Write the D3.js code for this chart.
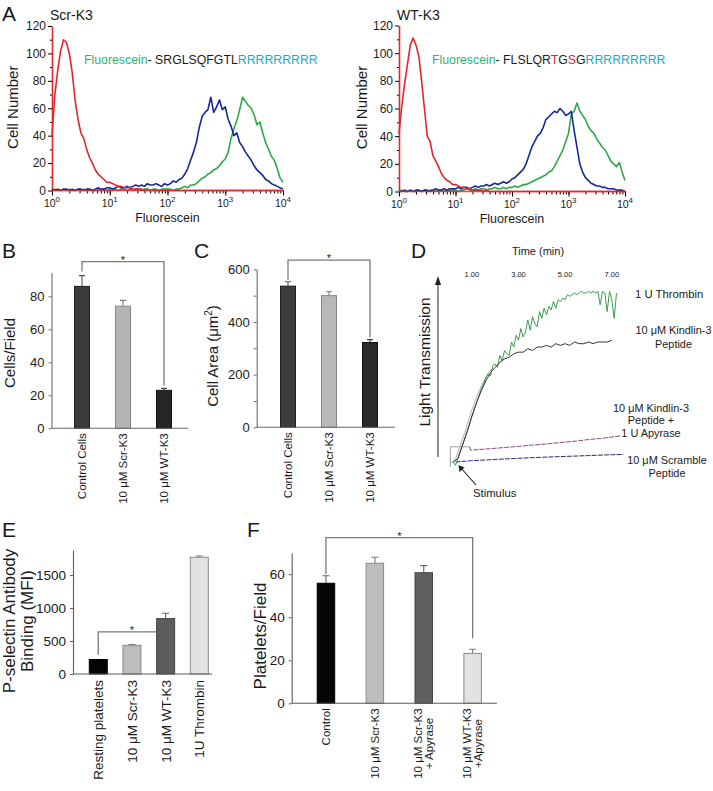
<!DOCTYPE html>
<html><head><meta charset="utf-8">
<script src="https://cdn.jsdelivr.net/npm/d3@7"></script>
<style>
body{margin:0;background:#fff;}
svg text{font-family:"Liberation Sans",Arial,Helvetica,sans-serif;fill:#1a1a1a;}
</style></head>
<body><svg id="fig" width="713" height="791"></svg>
<script>
// ================= DATA =================
// Panel A: flow cytometry histograms, channel spacing 0.05 decade from 10^0 to 10^4
const histStep = 0.05;
const cellTicks = [0, 20, 40, 60, 80, 100, 120];
const cellMinorTicks = [10, 30, 50, 70, 90, 110];
const decadeTicks = [1, 10, 100, 1000, 10000];
const scrRed = [40,70,88,102,110,108,100,86,66,52, 42,38,30,24,20,15,12,10,8,6, 6,5,4,3,3,2,2,2,1,1, 1,1,0,1,0,0,0,0,0,0, 0,0,0,0,0,0,0,0,0,0, 0,0,0,0,0,0,0,0,0,0, 0,0,0,0,0,0,0,0,0,0, 0,0,0,0,0,0,0,0,0,0, 0];
const scrBlue = [1,0,1,0,1,1,0,1,0,1, 1,0,1,1,0,1,2,1,1,2, 2,1,2,3,2,2,3,2,3,4, 3,4,3,5,4,4,5,4,3,5, 4,5,7,6,8,9,12,16,22,28, 35,46,54,57,59,68,57,61,66,59, 61,52,47,40,42,35,32,28,25,22, 18,15,13,11,8,7,5,4,3,2, 1];
const scrGreen = [0,1,0,0,1,0,1,0,0,1, 0,1,0,1,0,0,1,0,1,0, 1,0,1,0,1,1,0,1,0,1, 1,0,1,1,0,1,1,0,1,1, 1,1,0,1,1,2,3,2,4,4, 5,7,9,10,12,13,15,16,18,21, 23,28,38,45,51,59,68,65,62,60, 55,48,50,42,35,30,25,22,16,9, 6];
const wtRed = [42,62,78,92,106,111,106,98,80,60, 40,36,26,22,18,13,10,8,7,5, 5,4,3,3,2,2,1,1,1,1, 0,1,0,0,0,0,0,0,0,0, 0,0,0,0,0,0,0,0,0,0, 0,0,0,0,0,0,0,0,0,0, 0,0,0,0,0,0,0,0,0,0, 0,0,0,0,0,0,0,0,0,0, 0];
const wtBlue = [0,0,1,0,1,0,1,1,0,1, 1,0,1,2,1,1,2,1,2,2, 2,3,2,3,3,2,3,4,3,4, 4,5,4,5,6,5,6,7,6,7, 9,10,12,14,16,20,26,32,36,40, 42,46,52,54,56,58,57,60,58,55, 56,58,44,32,20,14,10,8,6,5, 4,4,3,3,2,2,2,1,1,1, 0];
const wtGreen = [0,1,0,0,1,0,0,1,0,1, 0,1,1,0,1,1,0,1,1,1, 1,0,1,1,2,1,1,2,1,2, 2,1,2,2,3,2,2,3,2,3, 3,4,3,4,5,5,6,7,8,9, 10,11,12,14,15,18,22,26,30,36, 42,56,58,64,58,55,52,47,44,42, 38,35,32,30,26,22,20,18,21,14, 8];

// Panel B
const bCats = ["Control Cells", "10 μM Scr-K3", "10 μM WT-K3"];
const bValues = [86, 74, 23];
const bErrors = [6.5, 3.5, 1.2];
const bTicks = [0, 20, 40, 60, 80];
// Panel C
const cCats = ["Control Cells", "10 μM Scr-K3", "10 μM WT-K3"];
const cValues = [536, 500, 322];
const cErrors = [17, 15, 11];
const cTicks = [0, 200, 400, 600];
const cMinorTicks = [100, 300, 500];
// Panel D: aggregation traces (time in min, light transmission in %)
const timeTicks = [1, 3, 5, 7];
const thrombinStart = 0.2, thrombinStep = 0.1;
const thrombinValues = [0,-2,2,6,10,14,18,22,27,31,35,39,43,
  46,50,52,51,57,58,56,63,60,66, 64,63,71,68,75,72,79,74,77,84, 78,86,82,80,89,85,91,87,92,90, 95,91,96,95,97,96,99,98,99,100,
  99,100,101,100,100,101,100,101,100,101, 93,101,100,89,101,96,85,100];
const kindlinStart = 0.2, kindlinStep = 0.2;
const kindlinValues = [0,2,10,18,27,35,42,48,53,56, 59,61,62,64,65,65,67,66,68,68, 69,68,70,69,70,69,71,70,70,71, 70,71,71,71,72];
const apyraseTimes = [0.9, 0.95, 1.5, 2.0, 2.5, 3.0, 3.5, 4.0, 4.5, 5.0, 5.5, 6.0, 6.5, 7.0, 7.4];
const apyraseValues = [9, 7, 7.6, 8.1, 8.7, 9.2, 9.9, 10.4, 11.1, 11.8, 12.4, 13.3, 13.9, 14.8, 15.5];
const scrambleTimes = [0.3, 1, 2, 3, 4, 5, 6, 7, 7.5];
const scrambleValues = [0, 0.8, 1.5, 2.2, 2.8, 3.3, 3.8, 4.3, 4.5];
const artifactTimes = [0.08, 0.08, 0.9];
const artifactValues = [-3, 9, 9];
// Panel E
const eCats = ["Resting platelets", "10 μM Scr-K3", "10 μM WT-K3", "1U Thrombin"];
const eValues = [220, 435, 840, 1770];
const eErrors = [0, 10, 80, 20];
const eTicks = [0, 500, 1000, 1500];
// Panel F
const fCats = [["Control"], ["10 μM Scr-K3"], ["10 μM Scr-K3", "+ Apyrase"], ["10 μM WT-K3", "+Apyrase"]];
const fValues = [55.8, 65.1, 60.7, 23.2];
const fErrors = [3.5, 2.8, 3.3, 1.9];
const fTicks = [0, 20, 40, 60];

// ================= DRAWING =================
const svg = d3.select("#fig");
const RED = "#e3262d", BLUE = "#16289c", GREEN = "#2ea64a";

function txt(x, y, s, size, opts = {}) {
  const t = svg.append("text").attr("x", x).attr("y", y).attr("font-size", size).text(s);
  if (opts.anchor) t.attr("text-anchor", opts.anchor);
  if (opts.fill) t.attr("fill", opts.fill);
  return t;
}
function vtext(x, y, s, size) {
  return svg.append("text").attr("transform", `translate(${x},${y}) rotate(-90)`)
    .attr("text-anchor", "middle").attr("dy", "0.35em").attr("font-size", size).text(s);
}

// ---------- Panel A ----------
function drawHist(o) {
  const g = svg.append("g");
  const x = d3.scaleLog().domain([1, 1e4]).range([o.x0, o.x1]);
  const y = d3.scaleLinear().domain([0, 120]).range([o.y0, o.y1]);
  g.append("g").attr("transform", `translate(${o.x0},0)`)
    .call(d3.axisLeft(y).tickValues(cellMinorTicks).tickSize(2).tickFormat(""))
    .call(s => s.select(".domain").remove());
  const ya = g.append("g").attr("transform", `translate(${o.x0},0)`)
    .call(d3.axisLeft(y).tickValues(cellTicks).tickSize(4).tickSizeOuter(0).tickPadding(2));
  ya.selectAll("text").attr("font-size", 12).attr("font-family", null);
  ya.select(".domain").attr("stroke", RED).attr("stroke-width", 1.6);
  const xm = g.append("g").attr("transform", `translate(0,${o.y0})`)
    .call(d3.axisBottom(x).tickValues(x.ticks()).tickSize(3).tickSizeOuter(0).tickFormat(""));
  xm.select(".domain").remove();
  const xa = g.append("g").attr("transform", `translate(0,${o.y0})`)
    .call(d3.axisBottom(x).tickValues(decadeTicks).tickSize(5).tickSizeOuter(0).tickFormat(""));
  xa.select(".domain").remove();
  decadeTicks.forEach(v => {
    const t = g.append("text").attr("x", x(v)).attr("y", o.y0 + 16).attr("text-anchor", "middle").attr("font-size", 10.5);
    t.append("tspan").text("10");
    t.append("tspan").attr("dy", -5).attr("font-size", 8).text(Math.round(Math.log10(v)));
  });
  g.append("text").attr("x", (o.x0 + o.x1) / 2).attr("y", o.y0 + 31).attr("text-anchor", "middle").attr("font-size", 12.5).text("Fluorescein");
  const line = d3.line().x((d, i) => x(Math.pow(10, i * histStep))).y(d => y(d));
  [[o.green, GREEN], [o.blue, BLUE], [o.red, RED]].forEach(([data, col]) => {
    g.append("path").datum(data).attr("d", line).attr("fill", "none").attr("stroke", col).attr("stroke-width", 1.6).attr("stroke-linejoin", "round");
  });
  g.append("line").attr("x1", x(1)).attr("x2", x(1e4)).attr("y1", y(0)).attr("y2", y(0)).attr("stroke", RED).attr("stroke-width", 1.4).attr("opacity", 0.85);
  vtext(o.labX, (o.y0 + o.y1) / 2 - 1, "Cell Number", 15);
  txt(o.titleX, 20, o.title, 14);
  const t = g.append("text").attr("x", o.seqX).attr("y", 63.5).attr("font-size", 12.3);
  o.seq.forEach(([s, c]) => t.append("tspan").attr("fill", c).text(s));
}
const CY = "#22aacb", SG = "#2bb573", BK = "#1a1a1a";
drawHist({x0: 52, x1: 283, y0: 190.5, y1: 26, green: scrGreen, blue: scrBlue, red: scrRed, labX: 13, title: "Scr-K3", titleX: 50, seqX: 84,
  seq: [["Fluorescein", SG], ["- SRGLSQFGTL", BK], ["RRRRRRRRR", CY]]});
drawHist({x0: 399, x1: 625, y0: 191.5, y1: 25.5, green: wtGreen, blue: wtBlue, red: wtRed, labX: 362, title: "WT-K3", titleX: 397, seqX: 432,
  seq: [["Fluorescein", SG], ["- FLSLQR", BK], ["T", RED], ["G", BK], ["S", RED], ["G", BK], ["RRRRRRRRR", CY]]});
txt(2, 21, "A", 21);

// ---------- Bar panels ----------
function drawBars(o) {
  const g = svg.append("g");
  const keys = o.cats.map(c => Array.isArray(c) ? c.join(" ") : c);
  const x = d3.scalePoint().domain(keys).range(o.xr).padding(0.5);
  const y = d3.scaleLinear().domain([0, o.ymax]).range([o.y0, o.yTop]);
  if (o.bracket) {
    const b = o.bracket;
    const xa = x(keys[b.from]), xb = x(keys[b.to]);
    g.append("path").attr("d", `M${xa},${y(b.leftEnd)}V${y(b.level)}H${xb}V${y(b.rightEnd)}`)
      .attr("fill", "none").attr("stroke", "#7a7a7a").attr("stroke-width", 1.3);
    g.append("text").attr("x", (xa + xb) / 2).attr("y", y(b.level) + 2).attr("text-anchor", "middle").attr("font-size", 11).text("*");
  }
  keys.forEach((k, i) => {
    if (!o.errors[i]) return;
    const cx = x(k), top = y(o.values[i] + o.errors[i]);
    g.append("path").attr("d", `M${cx},${y(o.values[i])}V${top}M${cx - o.cap / 2},${top}H${cx + o.cap / 2}`)
      .attr("stroke", o.errColor[i]).attr("stroke-width", 1.1).attr("fill", "none");
  });
  g.selectAll("rect.bar").data(o.values).enter().append("rect")
    .attr("x", (d, i) => x(keys[i]) - o.bw / 2).attr("width", o.bw)
    .attr("y", d => y(d)).attr("height", d => o.y0 - y(d))
    .attr("fill", (d, i) => o.fills[i]).attr("stroke", (d, i) => o.strokes[i]).attr("stroke-width", 1);
  if (o.minor) {
    g.append("g").attr("transform", `translate(${o.axisX},0)`)
      .call(d3.axisLeft(y).tickValues(o.minor).tickSize(3).tickFormat(""))
      .call(s => s.select(".domain").remove()).selectAll("line").attr("stroke", o.axisColor);
  }
  const ya = g.append("g").attr("transform", `translate(${o.axisX},0)`)
    .call(d3.axisLeft(y).tickValues(o.ticks).tickFormat(d3.format("d")).tickSize(3).tickSizeOuter(0).tickPadding(4));
  ya.select(".domain").attr("stroke", o.axisColor).attr("stroke-width", 1.1);
  ya.selectAll(".tick line").attr("stroke", o.axisColor);
  ya.selectAll("text").attr("font-size", o.tickFs).attr("font-family", null).attr("fill", "#1a1a1a");
  g.append("line").attr("x1", o.axisX).attr("x2", o.xEnd).attr("y1", o.y0).attr("y2", o.y0).attr("stroke", o.axisColor).attr("stroke-width", 1.1);
  o.cats.forEach((c, i) => {
    const lines = Array.isArray(c) ? c : [c];
    const grp = g.append("g").attr("transform", `translate(${x(keys[i])},${o.y0 + o.labGap}) rotate(-90)`);
    const ts = lines.map((ln, j) => grp.append("text").attr("font-size", o.labFs).attr("text-anchor", "middle")
      .attr("y", (j - (lines.length - 1) / 2) * o.labFs * 0.95 + o.labFs * 0.36).text(ln));
    const W = d3.max(ts, t => t.node().getComputedTextLength());
    ts.forEach(t => t.attr("x", -W / 2));
  });
  return g;
}

// B
drawBars({cats: bCats, values: bValues, errors: bErrors, ticks: bTicks, ymax: 94.3, y0: 428.3, yTop: 272.7,
  xr: [61.5, 184.5], axisX: 51.5, xEnd: 188, bw: 15, cap: 6, tickFs: 13, labFs: 11.5, labGap: 5,
  fills: ["#3b3b3b", "#b5b5b5", "#262626"], strokes: ["#1e1e1e", "#858585", "#111"], errColor: ["#555", "#777", "#444"],
  axisColor: "#6a6a6a", bracket: {from: 0, to: 2, level: 101, leftEnd: 95, rightEnd: 26}});
vtext(10, 353, "Cells/Field", 15);
txt(2, 258, "B", 21);

// C
drawBars({cats: cCats, values: cValues, errors: cErrors, ticks: cTicks, minor: cMinorTicks, ymax: 600, y0: 427.3, yTop: 269.3,
  xr: [267.5, 390.5], axisX: 256.7, xEnd: 395, bw: 15, cap: 6, tickFs: 13, labFs: 11.5, labGap: 5,
  fills: ["#3d3d3d", "#b8b8b8", "#2a2a2a"], strokes: ["#1e1e1e", "#858585", "#111"], errColor: ["#555", "#777", "#444"],
  axisColor: "#6a6a6a", bracket: {from: 0, to: 2, level: 635, leftEnd: 560, rightEnd: 342}});
{
  const t = svg.append("text").attr("transform", `translate(213,356) rotate(-90)`).attr("text-anchor", "middle").attr("dy", "0.35em").attr("font-size", 15);
  t.append("tspan").text("Cell Area (μm");
  t.append("tspan").attr("dy", -6).attr("font-size", 10).text("2");
  t.append("tspan").attr("dy", 6).text(")");
}
txt(194, 258, "C", 21);

// E
drawBars({cats: eCats, values: eValues, errors: eErrors, ticks: eTicks, ymax: 1880, y0: 674, yTop: 550,
  xr: [81.45, 216.15], axisX: 73, xEnd: 212, bw: 18, cap: 7, tickFs: 13.5, labFs: 13.5, labGap: 6,
  fills: ["#050505", "#bdbdbd", "#5c5c5c", "#e2e2e2"], strokes: ["#000", "#8a8a8a", "#444", "#8a8a8a"], errColor: ["#555", "#777", "#666", "#777"],
  axisColor: "#5a5a5a", bracket: {from: 0, to: 2, level: 640, leftEnd: 290, rightEnd: 640}});
vtext(9, 621, "P-selectin Antibody", 17);
vtext(27, 621, "Binding (MFI)", 17);
txt(2, 537, "E", 21);

// F
drawBars({cats: fCats, values: fValues, errors: fErrors, ticks: fTicks, ymax: 70, y0: 703.3, yTop: 552.7,
  xr: [301.5, 497.1], axisX: 291.7, xEnd: 497, bw: 17.5, cap: 7, tickFs: 13.5, labFs: 11.5, labGap: 5,
  fills: ["#050505", "#bdbdbd", "#5f5f5f", "#e2e2e2"], strokes: ["#000", "#8a8a8a", "#444", "#8a8a8a"], errColor: ["#666", "#777", "#666", "#777"],
  axisColor: "#5a5a5a", bracket: {from: 0, to: 3, level: 77, leftEnd: 60, rightEnd: 30.2}});
vtext(260, 636, "Platelets/Field", 17);
txt(247, 537, "F", 21);

// ---------- Panel D ----------
{
  const g = svg.append("g");
  const xT = d3.scaleLinear().domain([0, 7.5]).range([448.5, 623.5]);
  const yT = d3.scaleLinear().domain([0, 100]).range([462, 293]);
  g.append("text").attr("x", 538).attr("y", 255).attr("text-anchor", "middle").attr("font-size", 11).text("Time (min)");
  timeTicks.forEach(t => g.append("text").attr("x", xT(t)).attr("y", 276.5).attr("text-anchor", "middle").attr("font-size", 7.5).text(d3.format(".2f")(t)));
  const lineIdx = (start, step) => d3.line().x((d, i) => xT(start + i * step)).y(d => yT(d));
  const linePair = d3.line().x(d => xT(d[0])).y(d => yT(d[1]));
  g.append("path").datum(kindlinValues.slice(0, 10)).attr("d", lineIdx(kindlinStart, kindlinStep))
    .attr("transform", "translate(-2.5,1)").attr("fill", "none").attr("stroke", "#b0b0b0").attr("stroke-width", 1);
  g.append("path").datum(d3.zip(artifactTimes, artifactValues)).attr("d", linePair).attr("fill", "none").attr("stroke", "#a0a0a0").attr("stroke-width", 1);
  g.append("path").datum(d3.zip(scrambleTimes, scrambleValues)).attr("d", linePair).attr("fill", "none").attr("stroke", "#2c2c70").attr("stroke-width", 1).attr("stroke-dasharray", "5,1.2");
  g.append("path").datum(d3.zip(apyraseTimes, apyraseValues)).attr("d", linePair).attr("fill", "none").attr("stroke", "#8a4a7c").attr("stroke-width", 1).attr("stroke-dasharray", "5,1.2");
  g.append("path").datum(thrombinValues).attr("d", lineIdx(thrombinStart, thrombinStep)).attr("fill", "none").attr("stroke", "#3e9c4e").attr("stroke-width", 1);
  g.append("path").datum(kindlinValues).attr("d", lineIdx(kindlinStart, kindlinStep)).attr("fill", "none").attr("stroke", "#333").attr("stroke-width", 1);
  vtext(425, 362, "Light Transmission", 15.5);
  g.append("line").attr("x1", 438).attr("x2", 438).attr("y1", 457).attr("y2", 282).attr("stroke", "#222").attr("stroke-width", 1);
  g.append("path").attr("d", "M438,276L435,285L441,285Z").attr("fill", "#222");
  g.append("line").attr("x1", 476).attr("y1", 485).attr("x2", 461).attr("y2", 468).attr("stroke", "#222").attr("stroke-width", 1.1);
  g.append("path").attr("d", "M458.5,465L459.5,472L464.5,467.5Z").attr("fill", "#222");
  txt(473, 497, "Stimulus", 11.3);
  txt(635, 298, "1 U Thrombin", 11.3);
  txt(673.5, 334, "10 μM Kindlin-3", 10.9, {anchor: "middle"});
  txt(673.5, 348, "Peptide", 10.9, {anchor: "middle"});
  txt(651, 411.5, "10 μM Kindlin-3", 10.9, {anchor: "middle"});
  txt(651, 424, "Peptide +", 10.9, {anchor: "middle"});
  txt(651, 436.5, "1 U Apyrase", 10.9, {anchor: "middle"});
  txt(667, 464, "10 μM Scramble", 10.9, {anchor: "middle"});
  txt(667, 477, "Peptide", 10.9, {anchor: "middle"});
  txt(411, 258, "D", 21);
}
</script></body></html>
